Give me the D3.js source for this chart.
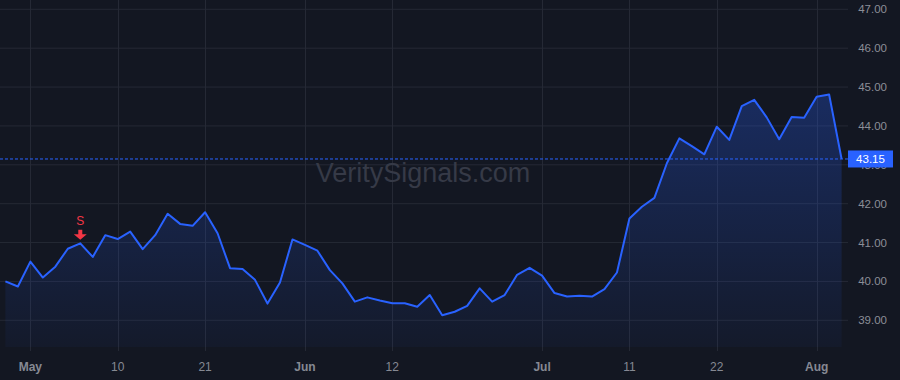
<!DOCTYPE html>
<html>
<head>
<meta charset="utf-8">
<script src="https://cdn.jsdelivr.net/npm/d3@7"></script>
<style>
  body { margin: 0; background: #131722; }
  svg { display: block; font-family: "Liberation Sans", Arial, sans-serif; }
</style>
</head>
<body>
<svg id="chart" width="900" height="380"></svg>
<script>
// trading days shown on the chart
const dates = [
  '2024-04-29', '2024-04-30',
  '2024-05-01', '2024-05-02', '2024-05-03', '2024-05-06', '2024-05-07', '2024-05-08', '2024-05-09', '2024-05-10',
  '2024-05-13', '2024-05-14', '2024-05-15', '2024-05-16', '2024-05-17', '2024-05-20', '2024-05-21', '2024-05-22',
  '2024-05-23', '2024-05-24', '2024-05-28', '2024-05-29', '2024-05-30', '2024-05-31',
  '2024-06-03', '2024-06-04', '2024-06-05', '2024-06-06', '2024-06-07', '2024-06-10', '2024-06-11', '2024-06-12',
  '2024-06-13', '2024-06-14', '2024-06-17', '2024-06-18', '2024-06-20', '2024-06-21', '2024-06-24', '2024-06-25',
  '2024-06-26', '2024-06-27', '2024-06-28',
  '2024-07-01', '2024-07-02', '2024-07-03', '2024-07-05', '2024-07-08', '2024-07-09', '2024-07-10', '2024-07-11',
  '2024-07-12', '2024-07-15', '2024-07-16', '2024-07-17', '2024-07-18', '2024-07-19', '2024-07-22', '2024-07-23',
  '2024-07-24', '2024-07-25', '2024-07-26', '2024-07-29', '2024-07-30', '2024-07-31',
  '2024-08-01', '2024-08-02', '2024-08-05'
];

const closes = [
  40.00, 39.87, 40.51, 40.10, 40.38, 40.84, 40.98, 40.63, 41.19, 41.09,
  41.28, 40.83, 41.19, 41.74, 41.48, 41.43, 41.78, 41.24, 40.34, 40.32,
  40.04, 39.43, 39.97, 41.08, 40.94, 40.79, 40.29, 39.95, 39.48, 39.59,
  39.51, 39.44, 39.44, 39.35, 39.65, 39.13, 39.22, 39.37, 39.82, 39.48,
  39.65, 40.17, 40.35, 40.15, 39.70, 39.61, 39.63, 39.61, 39.80, 40.23,
  41.62, 41.92, 42.15, 43.04, 43.68, 43.48, 43.27, 43.98, 43.64, 44.51,
  44.67, 44.22, 43.66, 44.23, 44.21, 44.75, 44.81, 43.15
];

const xTickDates = ['2024-05-01', '2024-05-10', '2024-05-21', '2024-06-03', '2024-06-12', '2024-07-01', '2024-07-11', '2024-07-22', '2024-08-01'];
const xTickLabels = ['May', '10', '21', 'Jun', '12', 'Jul', '11', '22', 'Aug'];
const monthTicks = ['May', 'Jun', 'Jul', 'Aug'];
const yTicks = [39, 40, 41, 42, 43, 44, 45, 46, 47];

const signalDates = ['2024-05-07'];
const signalLabels = ['S'];

const lastPrice = closes[closes.length - 1];

const svg = d3.select('#chart');
const plotRight = 848, plotBottom = 351;

const x = d3.scalePoint().domain(dates).range([5.4, 841.6]);
const y = d3.scaleLinear().domain([39, 47]).range([320.3, 9.3]);

const defs = svg.append('defs');
const grad = defs.append('linearGradient')
  .attr('id', 'fillGrad').attr('x1', 0).attr('y1', 0).attr('x2', 0).attr('y2', 1);
grad.append('stop').attr('offset', '0%').attr('stop-color', '#2962ff').attr('stop-opacity', 0.28);
grad.append('stop').attr('offset', '100%').attr('stop-color', '#2962ff').attr('stop-opacity', 0.04);

// grid
svg.append('g')
  .selectAll('line')
  .data(yTicks)
  .join('line')
  .attr('x1', 0).attr('x2', plotRight)
  .attr('y1', d => y(d)).attr('y2', d => y(d))
  .attr('stroke', '#252935').attr('stroke-width', 1);

svg.append('g')
  .selectAll('line')
  .data(xTickDates)
  .join('line')
  .attr('x1', d => Math.round(x(d)) + 0.5).attr('x2', d => Math.round(x(d)) + 0.5)
  .attr('y1', 0).attr('y2', plotBottom)
  .attr('stroke', '#252935').attr('stroke-width', 1);

// watermark
svg.append('text')
  .attr('x', 423).attr('y', 181.5)
  .attr('text-anchor', 'middle')
  .attr('font-size', 27)
  .attr('fill', '#363a47')
  .text('VeritySignals.com');

const series = dates.map((d, i) => ({ date: d, value: closes[i] }));

svg.append('path')
  .datum(series)
  .attr('fill', 'url(#fillGrad)')
  .attr('d', d3.area().x(d => x(d.date)).y0(347).y1(d => y(d.value)));

svg.append('path')
  .datum(series)
  .attr('fill', 'none')
  .attr('stroke', '#2962ff')
  .attr('stroke-width', 2)
  .attr('stroke-linejoin', 'round')
  .attr('d', d3.line().x(d => x(d.date)).y(d => y(d.value)));

// last price line
svg.append('line')
  .attr('x1', 0).attr('x2', plotRight)
  .attr('y1', y(lastPrice)).attr('y2', y(lastPrice))
  .attr('stroke', '#2962ff').attr('stroke-width', 1)
  .attr('stroke-dasharray', '3,2');

// y axis labels (43.00 sits partly under the price tag, as in the original)
svg.append('g')
  .selectAll('text')
  .data(yTicks)
  .join('text')
  .attr('x', 887).attr('y', d => y(d))
  .attr('dy', '0.35em')
  .attr('text-anchor', 'end')
  .attr('font-size', 11.5)
  .attr('fill', '#8b8e97')
  .text(d => d.toFixed(2));

// last price tag
svg.append('rect')
  .attr('x', 848).attr('y', y(lastPrice) - 8.5)
  .attr('width', 45).attr('height', 17)
  .attr('fill', '#2962ff');
svg.append('text')
  .attr('x', 870.5).attr('y', y(lastPrice))
  .attr('dy', '0.35em')
  .attr('text-anchor', 'middle')
  .attr('font-size', 11.5)
  .attr('fill', '#ffffff')
  .text(lastPrice.toFixed(2));

// x axis labels
svg.append('g')
  .selectAll('text')
  .data(xTickDates)
  .join('text')
  .attr('x', d => x(d)).attr('y', 367)
  .attr('dy', '0.35em')
  .attr('text-anchor', 'middle')
  .attr('font-size', 12)
  .attr('font-weight', (d, i) => monthTicks.includes(xTickLabels[i]) ? 'bold' : 'normal')
  .attr('fill', '#868993')
  .text((d, i) => xTickLabels[i]);

// signal markers
signalDates.forEach((d, i) => {
  const cx = x(d);
  const cy = y(closes[dates.indexOf(d)]);
  const g = svg.append('g');
  g.append('text')
    .attr('x', cx).attr('y', cy - 18)
    .attr('text-anchor', 'middle')
    .attr('font-size', 12)
    .attr('fill', '#f23645')
    .text(signalLabels[i]);
  g.append('path')
    .attr('d', `M${cx - 2},${cy - 13.5} h4 v4.5 h4.5 l-6.5,5.5 l-6.5,-5.5 h4.5 z`)
    .attr('fill', '#f23645');
});
</script>
</body>
</html>
